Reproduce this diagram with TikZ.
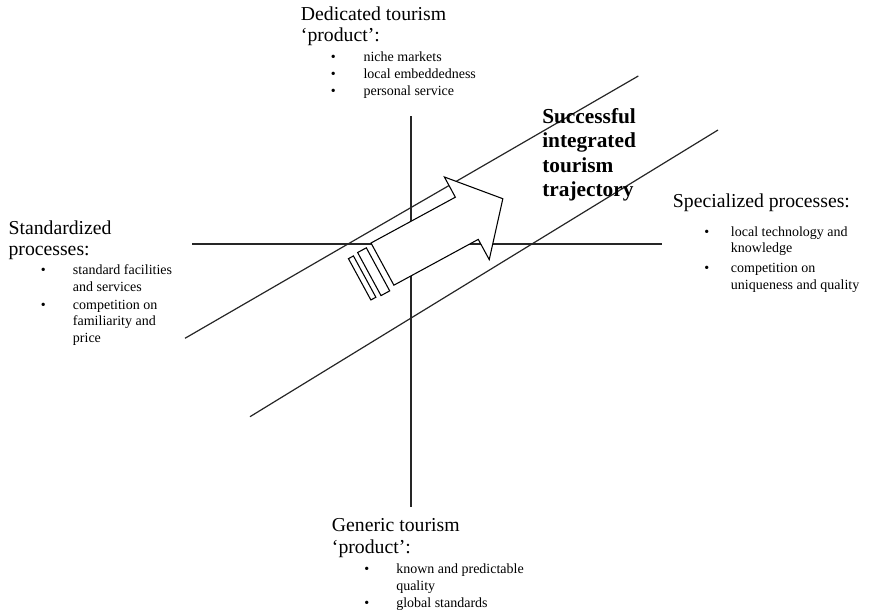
\documentclass[tikz,border=0pt]{standalone}
\usepackage{fontspec}
\setmainfont{Liberation Serif}
\begin{document}
\begin{tikzpicture}[x=0.75pt,y=-0.75pt,
  rule/.style={draw=black!85,line width=0.9pt},
  head/.style={anchor=base west,inner sep=0pt,font=\fontsize{14.8}{14.8}\selectfont},
  sub/.style={anchor=base west,inner sep=0pt,font=\fontsize{10.5}{10.5}\selectfont},
  dot/.style={anchor=base,inner sep=0pt,font=\fontsize{10.5}{10.5}\selectfont},
  bold/.style={anchor=base west,inner sep=0pt,font=\fontsize{16}{16}\selectfont\bfseries},
  arr/.style={draw=black,fill=white,line width=0.8pt,line join=miter}]
\useasboundingbox (0,0) rectangle (878,614);

% axes
\coordinate (vtop) at (411,116);
\coordinate (vbot) at (411,507);
\coordinate (hleft) at (192,244);
\coordinate (hright) at (662,244);
\draw[rule] (vtop) -- (vbot);
\draw[rule] (hleft) -- (hright);

% corridor of the trajectory
\coordinate (ua) at (185,338.3);
\coordinate (ub) at (638.3,76);
\coordinate (la) at (250,416.7);
\coordinate (lb) at (718,130);
\draw[rule] (ua) -- (ub);
\draw[rule] (la) -- (lb);

% striped arrow
\begin{scope}[shift={(371,243)},rotate=28.5]
  \draw[arr] (0,0) -- (96,0) -- (96,-23) -- (137,24) -- (96,71) -- (96,48) -- (0,48) -- cycle;
  \draw[arr] (-16.3,2) rectangle (-6.4,51);
  \draw[arr] (-27.3,3) rectangle (-21.6,50);
\end{scope}

% top block
\node[head] (dt1) at (300.7,20.7) {Dedicated tourism};
\node[head] (dt2) at (300.7,41.7) {‘product’:};
\node[dot] (db1) at (333.3,61.5) {•};
\node[sub] (d1) at (363.3,61.5) {niche markets};
\node[dot] (db2) at (333.3,78.5) {•};
\node[sub] (d2) at (363.3,78.5) {local embeddedness};
\node[dot] (db3) at (333.3,95.3) {•};
\node[sub] (d3) at (363.3,95.3) {personal service};

% left block
\node[head] (st1) at (8.3,234.5) {Standardized};
\node[head] (st2) at (8.3,255.5) {processes:};
\node[dot] (sb1) at (43.3,274) {•};
\node[sub] (s1a) at (72.7,274) {standard facilities};
\node[sub] (s1b) at (72.7,291) {and services};
\node[dot] (sb2) at (43.3,309.3) {•};
\node[sub] (s2a) at (72.7,309.3) {competition on};
\node[sub] (s2b) at (72.7,325.9) {familiarity and};
\node[sub] (s2c) at (72.7,342.5) {price};

% right block
\node[head] (sp1) at (672.7,207.7) {Specialized processes:};
\node[dot] (pb1) at (706.7,236) {•};
\node[sub] (p1a) at (730.7,236) {local technology and};
\node[sub] (p1b) at (730.7,252) {knowledge};
\node[dot] (pb2) at (706.7,272.9) {•};
\node[sub] (p2a) at (730.7,272.9) {competition on};
\node[sub] (p2b) at (730.7,289.4) {uniqueness and quality};

% bottom block
\node[head] (gt1) at (331.7,531.7) {Generic tourism};
\node[head] (gt2) at (331.7,553) {‘product’:};
\node[dot] (gb1) at (366.7,573.3) {•};
\node[sub] (g1a) at (396,573.3) {known and predictable};
\node[sub] (g1b) at (396,590) {quality};
\node[dot] (gb2) at (366.7,607.7) {•};
\node[sub] (g2) at (396,607.7) {global standards};

% trajectory label
\node[bold] (tr1) at (542,123.5) {Successful};
\node[bold] (tr2) at (542,147.8) {integrated};
\node[bold] (tr3) at (542,172.1) {tourism};
\node[bold] (tr4) at (542,196.4) {trajectory};
\end{tikzpicture}
\end{document}
